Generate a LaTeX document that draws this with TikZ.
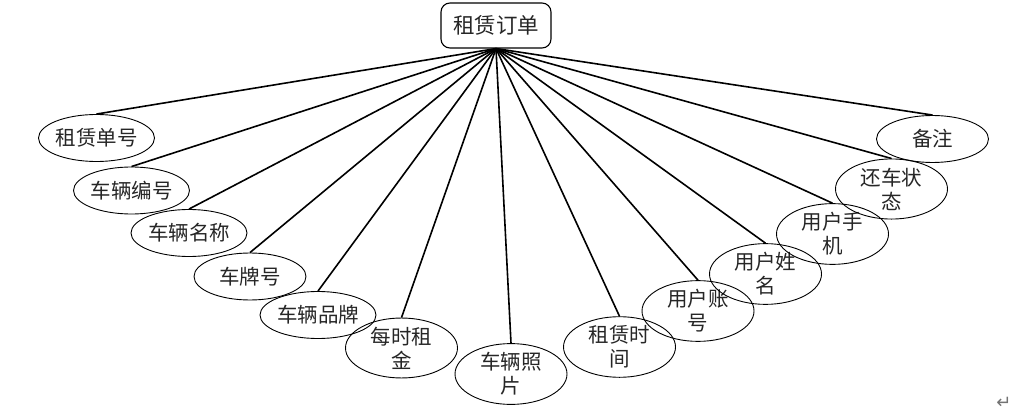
\documentclass[tikz,border=0pt]{standalone}
\usepackage{fontspec}
\setmainfont{Noto Sans CJK SC}
\newfontfamily\symfont{DejaVu Sans}
\usetikzlibrary{shapes.geometric}
\begin{document}
\begin{tikzpicture}[x=1pt,y=-1pt,
  attr/.style={draw,ellipse,line width=0.9pt,minimum width=112pt,minimum height=47pt,inner sep=0pt,
    font=\fontsize{20.5pt}{24pt}\selectfont,align=center,text=black!85},
  rootbox/.style={draw,rounded corners=9pt,line width=1.1pt,minimum width=110pt,minimum height=45pt,
    inner sep=0pt,font=\fontsize{21.5pt}{25pt}\selectfont,text=black!85},
  link/.style={line width=1.6pt}]
\useasboundingbox (0,0) rectangle (1020,414);
\node[rootbox] (root) at (496,25.5) {租赁订单};
\node[attr] (a1) at (96.5,138) {租赁单号};
\node[attr] (a2) at (131.5,190.5) {车辆编号};
\node[attr] (a3) at (189,233) {车辆名称};
\node[attr] (a4) at (250,276.5) {车牌号};
\node[attr] (a5) at (318,315) {车辆品牌};
\node[attr] (a6) at (401.5,348) {每时租\\金};
\node[attr] (a7) at (511,374) {车辆照\\片};
\node[attr] (a8) at (619.5,347) {租赁时\\间};
\node[attr] (a9) at (698,311) {用户账\\号};
\node[attr] (a10) at (765.5,274) {用户姓\\名};
\node[attr] (a11) at (832.5,234) {用户手\\机};
\node[attr] (a12) at (891.5,189) {还车状\\态};
\node[attr] (a13) at (932.5,139) {备注};
\foreach \i in {1,...,13} {\draw[link] (root.south) -- (a\i.north);}
\node[font=\symfont\fontsize{18pt}{20pt}\selectfont,text=black!55] (para) at (1004,403) {↵};
\end{tikzpicture}
\end{document}
